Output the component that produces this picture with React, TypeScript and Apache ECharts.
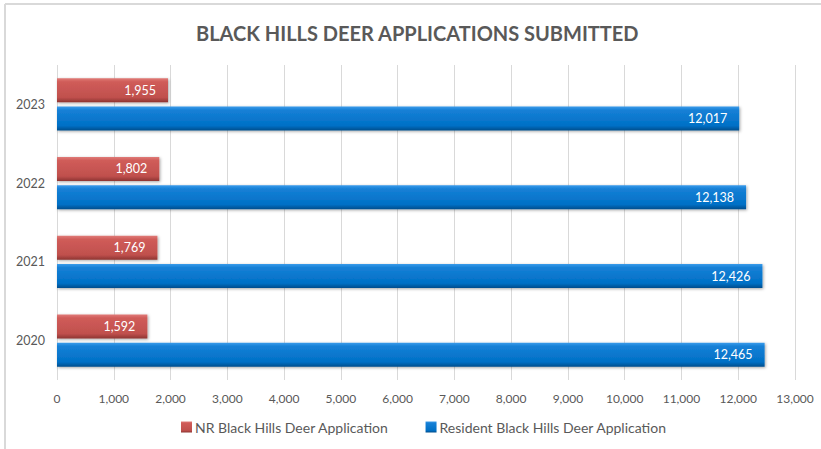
import React, { useEffect, useRef } from "react";
import * as echarts from "echarts";

const years = ["2020", "2021", "2022", "2023"];
const nrValues = [1592, 1769, 1802, 1955];
const residentValues = [12465, 12426, 12138, 12017];
const nrName = "NR Black Hills Deer Application";
const resName = "Resident Black Hills Deer Application";
const titleText = "BLACK HILLS DEER APPLICATIONS SUBMITTED";

const FONT = "Lato, 'Open Sans', sans-serif";

export default function App() {
  const ref = useRef<HTMLDivElement>(null);
  useEffect(() => {
    if (!ref.current) return;
    const chart = echarts.init(ref.current, undefined, { renderer: "svg" });
    const fmt = (v: number) => v.toLocaleString("en-US");
    const redGrad = new echarts.graphic.LinearGradient(0, 0, 0, 1, [
      { offset: 0, color: "#e07b78" },
      { offset: 0.15, color: "#d05c59" },
      { offset: 0.8, color: "#c0504d" },
      { offset: 1, color: "#8e3532" },
    ]);
    const blueGrad = new echarts.graphic.LinearGradient(0, 0, 0, 1, [
      { offset: 0, color: "#3a9bea" },
      { offset: 0.15, color: "#1680d6" },
      { offset: 0.8, color: "#0070c6" },
      { offset: 1, color: "#004d8c" },
    ]);
    const labelCfg = {
      show: true,
      position: "insideRight",
      distance: 12,
      color: "#ffffff",
      fontSize: 12.5,
      fontFamily: FONT,
      formatter: (p: any) => fmt(p.value),
    };
    const shadow = {
      shadowColor: "rgba(0,0,0,0.35)",
      shadowBlur: 3,
      shadowOffsetX: 1,
      shadowOffsetY: 1,
    };
    chart.setOption({
      animation: false,
      backgroundColor: "#ffffff",
      textStyle: { fontFamily: FONT },
      title: {
        text: titleText,
        left: 191,
        top: 18,
        textStyle: { fontFamily: FONT, fontSize: 20, fontWeight: "bold", color: "#595959" },
      },
      graphic: [
        { type: "line", shape: { x1: 5, y1: 4, x2: 821, y2: 4 }, style: { stroke: "#d9d9d9", lineWidth: 2 } },
        { type: "line", shape: { x1: 5, y1: 4, x2: 5, y2: 449 }, style: { stroke: "#d9d9d9", lineWidth: 2 } },
      ],
      legend: {
        bottom: 10,
        left: 176,
        itemWidth: 11,
        itemHeight: 11,
        itemGap: 37,
        itemStyle: { borderWidth: 0 },
        icon: "rect",
        data: [nrName, resName],
        textStyle: { fontFamily: FONT, fontSize: 14, color: "#595959", padding: [0, 0, 0, -2] },
      },
      grid: { left: 57, right: 26, top: 65, bottom: 69, containLabel: false },
      xAxis: {
        type: "value",
        min: 0,
        max: 13000,
        interval: 1000,
        axisLine: { show: false },
        axisTick: { show: false },
        axisLabel: { formatter: (v: number) => fmt(v), fontSize: 12, color: "#595959", margin: 12 },
        splitLine: { show: true, lineStyle: { color: "#d9d9d9", width: 1 } },
      },
      yAxis: {
        type: "category",
        data: years,
        axisLine: { show: false },
        axisTick: { show: false },
        axisLabel: { fontSize: 12.5, color: "#595959", margin: 12 },
        splitLine: { show: false },
      },
      series: [
        {
          name: nrName,
          type: "bar",
          data: nrValues,
          barWidth: 24,
          barGap: "18%",
          barCategoryGap: "34%",
          itemStyle: { color: redGrad, ...shadow },
          label: labelCfg,
        },
        {
          name: resName,
          type: "bar",
          data: residentValues,
          barWidth: 24,
          barGap: "18%",
          itemStyle: { color: blueGrad, ...shadow },
          label: labelCfg,
        },
      ],
    });
    return () => chart.dispose();
  }, []);
  return <div ref={ref} style={{ position: "fixed", left: 0, top: 0, width: 821, height: 449 }} />;
}
